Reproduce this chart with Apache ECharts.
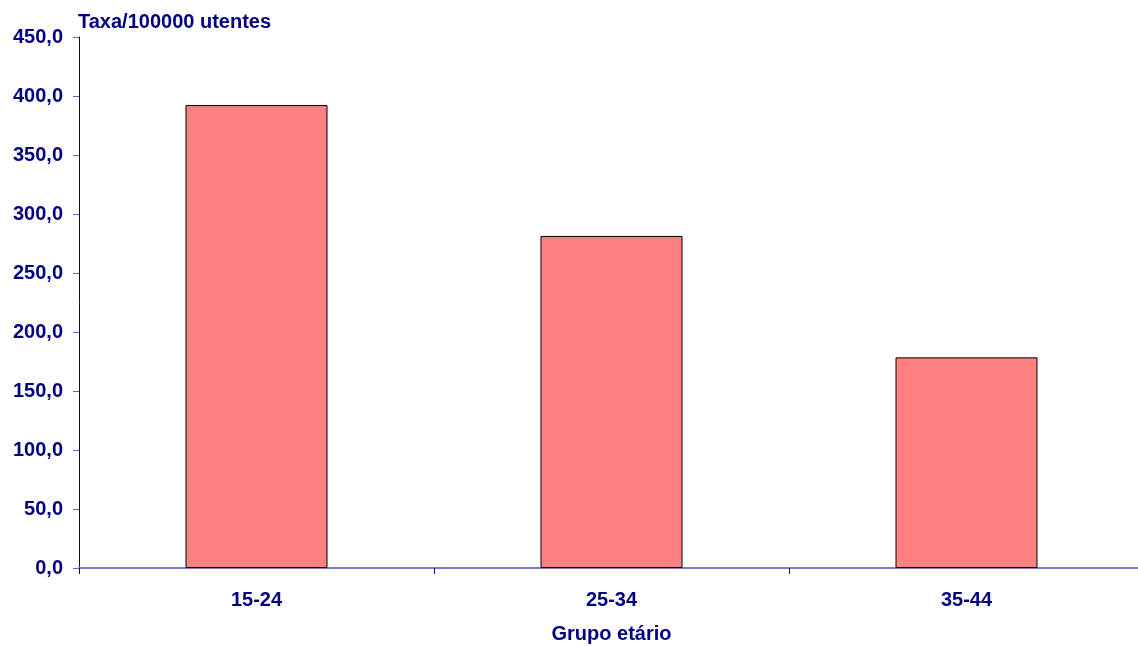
<!DOCTYPE html>
<html>
<head>
<meta charset="utf-8">
<script src="https://cdn.jsdelivr.net/npm/echarts@6/dist/echarts.min.js"></script>
<style>
  html, body { margin: 0; padding: 0; background: #ffffff; overflow: hidden; }
  /* the plot runs a few pixels past the right edge of the window */
  #chart { width: 1146px; height: 646px; }
</style>
</head>
<body>
<div id="chart"></div>
<script>
// Taxa por 100000 utentes, por grupo etário
const categories = ['15-24', '25-34', '35-44'];
const taxa = [392.3, 281.4, 178.5];

const navy = '#000080';
const font = '"Liberation Sans", Arial, sans-serif';

const chart = echarts.init(document.getElementById('chart'), null, { renderer: 'canvas' });
chart.setOption({
  animation: false,
  backgroundColor: '#ffffff',
  title: {
    text: 'Taxa/100000 utentes',
    left: 78,
    top: 12,
    padding: [0, 0, 0, 0],
    textStyle: { color: navy, fontFamily: font, fontWeight: 'bold', fontSize: 20 }
  },
  grid: { left: 79, right: 2, top: 37, bottom: 78, outerBoundsMode: 'none', containLabel: false },
  xAxis: {
    type: 'category',
    data: categories,
    name: 'Grupo etário',
    nameLocation: 'middle',
    nameGap: 56,
    nameTextStyle: { color: navy, fontFamily: font, fontWeight: 'bold', fontSize: 20 },
    axisLine: { lineStyle: { color: '#7b7bc4', width: 2 } },
    axisTick: { show: true, length: 6, lineStyle: { color: navy, width: 1 } },
    axisLabel: { color: navy, fontFamily: font, fontWeight: 'bold', fontSize: 20, margin: 22 },
    splitLine: { show: false }
  },
  yAxis: {
    type: 'value',
    min: 0,
    max: 450,
    interval: 50,
    axisLine: { show: true, lineStyle: { color: navy, width: 1 } },
    axisTick: { show: true, length: 6, lineStyle: { color: '#6a6ab8', width: 1 } },
    axisLabel: {
      color: navy, fontFamily: font, fontWeight: 'bold', fontSize: 20, margin: 16,
      formatter: v => v.toFixed(1).replace('.', ',')
    },
    splitLine: { show: false }
  },
  series: [{
    type: 'bar',
    data: taxa,
    barWidth: '40%',
    itemStyle: { color: '#ff8080', borderColor: '#000000', borderWidth: 1 }
  }]
});
</script>
</body>
</html>
